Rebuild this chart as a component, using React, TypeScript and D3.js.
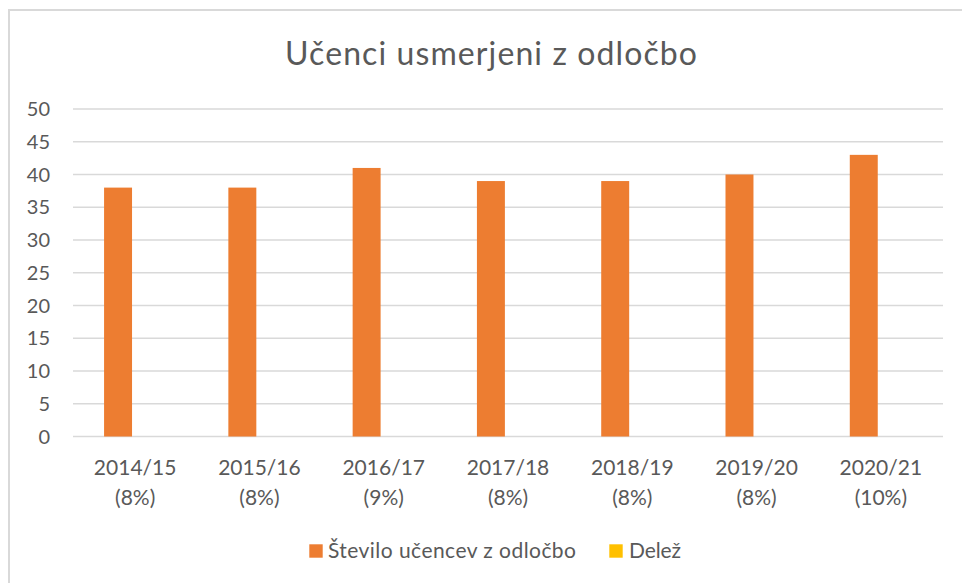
import React from "react";
import * as d3 from "d3";

const title = "Učenci usmerjeni z odločbo";
const categories = ["2014/15", "2015/16", "2016/17", "2017/18", "2018/19", "2019/20", "2020/21"];
const counts = [38, 38, 41, 39, 39, 40, 43];
const shares = [8, 8, 9, 8, 8, 8, 10];
const yTicks = [0, 5, 10, 15, 20, 25, 30, 35, 40, 45, 50];
const seriesNames = ["Število učencev z odločbo", "Delež"];
const seriesColors = ["#ED7D31", "#FFC000"];

const W = 962;
const H = 583;
const FONT = "Lato, 'Open Sans', sans-serif";
const TEXT = "#595959";
const GRID = "#D9D9D9";

export default function App() {
  const x = d3.scaleBand<string>().domain(categories).range([73, 943]).padding(0);
  const y = d3.scaleLinear().domain([0, 50]).range([436.5, 109]);
  const bw = x.bandwidth();
  const barOffset = bw * 0.25;
  const barW = bw * 0.225;

  return (
    <svg
      width={W}
      height={H}
      style={{ position: "absolute", left: 0, top: 0, background: "#fff" }}
      fontFamily={FONT}
    >
      <rect x={0} y={0} width={W} height={H} fill="#fff" />
      <rect x={9} y={10} width={W + 20} height={H + 20} fill="none" stroke={GRID} strokeWidth={2} />
      <text x={491} y={65} textAnchor="middle" fontSize={32} fill={TEXT} textLength={412} lengthAdjust="spacing">
        {title}
      </text>
      {yTicks.map((t) => (
        <g key={t}>
          <line x1={73} x2={943} y1={y(t)} y2={y(t)} stroke={GRID} strokeWidth={1.3} />
          <text x={50} y={y(t)} dy="0.36em" textAnchor="end" fontSize={20} fill={TEXT}>
            {t}
          </text>
        </g>
      ))}
      {categories.map((c, i) => (
        <rect
          key={c}
          x={(x(c) as number) + barOffset}
          y={y(counts[i])}
          width={barW}
          height={y(0) - y(counts[i])}
          fill={seriesColors[0]}
        />
      ))}
      {categories.map((c, i) => (
        <text key={c} textAnchor="middle" fontSize={21} fill={TEXT}>
          <tspan x={(x(c) as number) + bw / 2} y={475}>{c}</tspan>
          <tspan x={(x(c) as number) + bw / 2} y={505}>({shares[i]}%)</tspan>
        </text>
      ))}
      <g>
        <rect x={309.3} y={544.3} width={13.4} height={13.4} fill={seriesColors[0]} />
        <text x={328} y={558} fontSize={21} fill={TEXT} textLength={248} lengthAdjust="spacing">{seriesNames[0]}</text>
        <rect x={609.3} y={544.3} width={13.4} height={13.4} fill={seriesColors[1]} />
        <text x={629} y={558} fontSize={21} fill={TEXT} textLength={52} lengthAdjust="spacing">{seriesNames[1]}</text>
      </g>
    </svg>
  );
}
